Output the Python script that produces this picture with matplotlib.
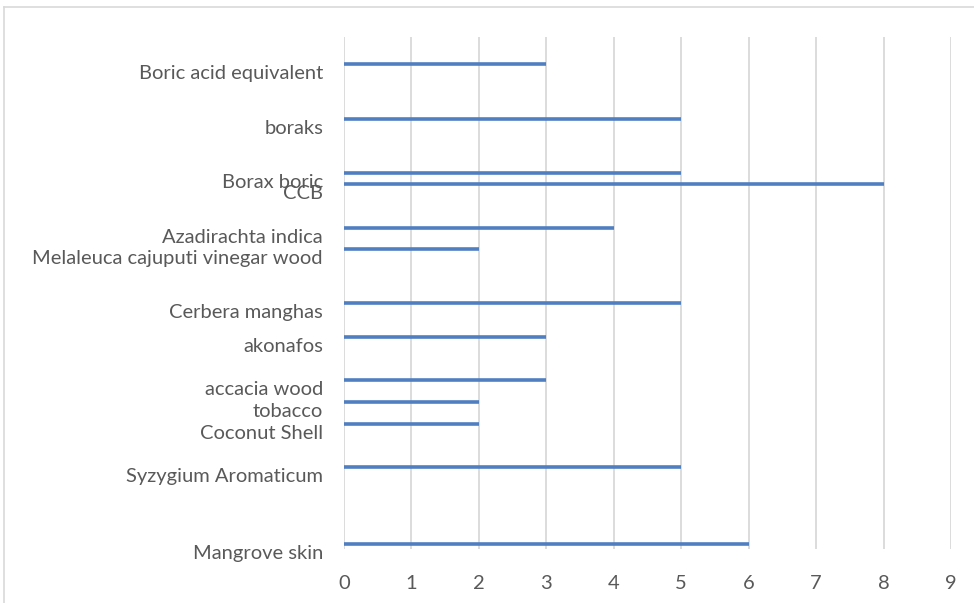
import matplotlib
matplotlib.use("Agg")
import matplotlib.pyplot as plt
from matplotlib.lines import Line2D
import matplotlib.transforms as mtransforms

categories = ["Mangrove skin", "Syzygium Aromaticum", "Coconut Shell", "tobacco",
              "accacia wood", "akonafos", "Cerbera manghas",
              "Melaleuca cajuputi vinegar wood", "Azadirachta indica", "CCB",
              "Borax boric", "boraks", "Boric acid equivalent"]
values = [6, 5, 2, 2, 3, 3, 5, 2, 4, 8, 5, 5, 3]
# vertical position of each category
positions = [0.5, 8.2, 12.5, 14.7, 16.9, 21.2, 24.6, 30.0, 32.1, 36.5, 37.6, 43.0, 48.5]
x_ticks = list(range(0, 10))

plt.rcParams['font.family'] = ['Lato', 'DejaVu Sans']
fig = plt.figure(figsize=(9.74, 6.03), dpi=100)
ax = fig.add_axes([344/974, (603-549)/603, (951-344)/974, (549-37)/603])

ax.hlines(positions, 0, values, color="#4f7fc0", lw=2.6)
ax.set_xlim(0, 9)
ax.set_ylim(0, 51.2)
ax.set_xticks(x_ticks)
ax.set_xticklabels([str(t) for t in x_ticks])
ax.set_yticks([])
ax.grid(axis="x", color="#d9d9d9", lw=1.3)
ax.set_axisbelow(True)
for s in ax.spines.values():
    s.set_visible(False)
ax.tick_params(axis="x", length=0, pad=19, labelsize=14.5, labelcolor="#595959")

trans = mtransforms.blended_transform_factory(ax.transAxes, ax.transData)
for cat, y in zip(categories, positions):
    ax.text(-21/607, y - 0.95, cat, transform=trans, ha="right", va="center",
            fontsize=14.5, color="#595959", clip_on=False)

# outer chart frame
fig.add_artist(Line2D([4/974, 4/974], [0, 1 - 7/603], transform=fig.transFigure,
                      color="#d9d9d9", lw=1.2))
fig.add_artist(Line2D([4/974, 1], [1 - 7/603, 1 - 7/603], transform=fig.transFigure,
                      color="#d9d9d9", lw=1.2))

fig.savefig("out.png", dpi=100, facecolor="white")
